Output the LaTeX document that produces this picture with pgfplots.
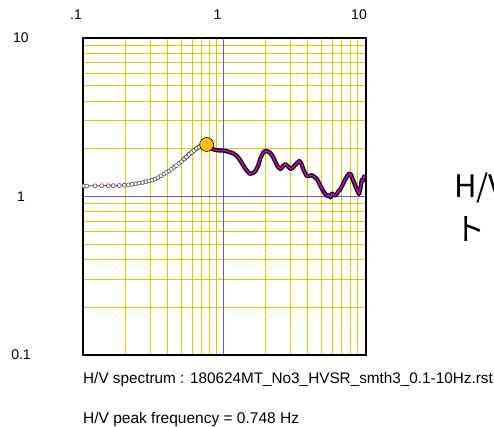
\documentclass[border=0pt]{standalone}
\usepackage{pgfplots}
\pgfplotsset{compat=1.18}
\usepackage{pgfplotstable}
\usepackage{fontspec}
\setmainfont{Liberation Sans}
\newfontfamily\cjk{Noto Sans CJK JP}
\definecolor{gridyellow}{RGB}{212,206,0}
\definecolor{gridblue}{RGB}{90,90,255}
\definecolor{hvmag}{RGB}{200,0,200}
\definecolor{peakcol}{RGB}{255,192,0}

\pgfplotstableread{
f hv
0.1016 1.165
0.1062 1.165
0.1216 1.168
0.1356 1.170
0.1510 1.170
0.1637 1.171
0.1805 1.173
0.1958 1.178
0.2090 1.185
0.2220 1.194
0.2350 1.202
0.2487 1.215
0.2633 1.226
0.2787 1.240
0.2926 1.253
0.3073 1.269
0.3227 1.289
0.3388 1.314
0.3557 1.351
0.3736 1.387
0.3891 1.421
0.4053 1.448
0.4221 1.486
0.4396 1.528
0.4579 1.569
0.4769 1.620
0.4967 1.661
0.5174 1.724
0.5388 1.775
0.5612 1.841
0.5845 1.895
0.6088 1.951
0.6341 2.009
0.6605 2.053
}\lowdata

\pgfplotstableread{
f hv
0.5174 1.724
0.5388 1.775
0.5612 1.841
0.5845 1.895
0.6088 1.951
0.6341 2.009
0.6605 2.053
0.7047 2.107
0.748 2.13
0.7898 2.038
0.8567 1.966
0.9295 1.951
1.0082 1.945
1.0759 1.909
1.1538 1.873
1.2254 1.801
1.2867 1.699
1.3510 1.580
1.4187 1.480
1.5146 1.387
1.5904 1.407
1.6564 1.448
1.7250 1.557
1.7966 1.749
1.8713 1.881
1.9490 1.945
2.0298 1.922
2.1141 1.881
2.2020 1.775
2.2934 1.651
2.3886 1.535
2.4878 1.491
2.5912 1.557
2.6988 1.603
2.8109 1.546
2.9275 1.491
3.0491 1.524
3.2020 1.603
3.3784 1.675
3.5019 1.603
3.6176 1.470
3.8107 1.347
3.9561 1.347
4.1339 1.366
4.3251 1.327
4.5048 1.289
4.7306 1.182
4.9272 1.099
5.1310 1.044
5.3017 1.007
5.4770 1.022
5.6126 0.986
5.7513 1.044
5.9423 1.015
6.1884 1.030
6.3937 1.083
6.5516 1.099
6.7684 1.165
6.9356 1.217
7.1067 1.271
7.3413 1.337
7.5849 1.397
7.8343 1.377
8.0922 1.271
8.3607 1.182
8.6370 1.099
8.9226 1.037
9.1428 1.131
9.3239 1.271
9.5237 1.262
9.6807 1.337
9.9198 1.308
}\highdata

\begin{document}
\begin{tikzpicture}
\path[use as bounding box] (0pt,0pt) rectangle (494pt,-426pt);
% grid lines of the log axes (decoration)
\foreach \gx in {125.5,150.5,167.5,181.5,192.5,201.5,209.5,216.5,265.5,290.5,307.5,321.5,332.5,341.5,350.5,357.5}{
  \draw[gridyellow, line width=1.8pt] (\gx pt,-38pt) -- (\gx pt,-355pt);
}
\foreach \gy in {45.5,53.5,62.5,73.5,85.5,101.5,120.5,148.5,203.5,211.5,221.5,231.5,244.5,259.5,279.5,307.5}{
  \draw[gridyellow, line width=1.8pt] (83pt,-\gy pt) -- (366pt,-\gy pt);
}
\draw[gridblue, line width=1.8pt] (223.5pt,-38pt) -- (223.5pt,-355pt);
\draw[gridblue, line width=1.8pt] (83pt,-196.5pt) -- (366pt,-196.5pt);
\begin{axis}[
  at={(83pt,-355pt)}, anchor=south west,
  width=283pt, height=317pt, scale only axis,
  xmode=log, ymode=log,
  xmin=0.1, xmax=10, ymin=0.1, ymax=10,
  xtick={0.1,1,10}, xticklabels={.1,1,10},
  ytick={0.1,1,10}, yticklabels={0.1,1,10},
  xminorticks=false, yminorticks=false,
  major tick length=0pt, minor tick length=0pt,
  tick style={draw=none}, minor tick style={draw=none},
  grid=none,
  xticklabel pos=upper,
  axis on top,
  axis line style={black, line width=1.4pt},
  xticklabel style={anchor=center, yshift=23pt, xshift=-7pt, font=\fontsize{14}{16}\selectfont},
  yticklabel style={anchor=center, xshift=-62pt, font=\fontsize{14}{16}\selectfont},
  /pgf/number format/assume math mode=true,
]
\addplot[only marks, mark=*, mark size=2pt, mark options={draw=black!70, fill=white, line width=0.6pt}] table {\lowdata};
\addplot[black, line width=4.2pt, line join=round, line cap=round] table {\highdata};
\addplot[hvmag, line width=1pt, line join=round] table {\lowdata};
\addplot[hvmag, line width=1.5pt, line join=round] table {\highdata};
\addplot[only marks, mark=*, mark size=7pt, mark options={fill=peakcol, draw=black, line width=0.6pt}] coordinates {(0.748,2.13)};
\end{axis}
\node[anchor=base west, inner sep=0pt] at (83pt,-383pt) {\fontsize{15.3}{18}\selectfont H/V spectrum : 180624MT\_No3\_HVSR\_smth3\_0.1-10Hz.rst};
\node[anchor=base west, inner sep=0pt] at (83pt,-423pt) {\fontsize{15.5}{18}\selectfont H/V peak frequency = 0.748 Hz};
\node[anchor=base west, inner sep=0pt, align=left, font={\cjk\fontsize{31}{40}\selectfont}] at (454pt,-240pt) {H/Vスペク\\[3pt]ト};
\end{tikzpicture}
\end{document}
